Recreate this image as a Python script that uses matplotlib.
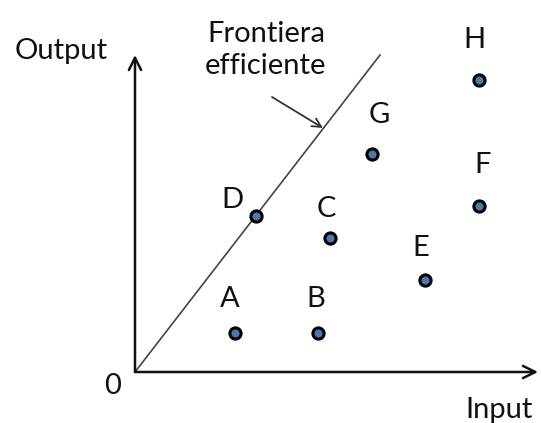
import matplotlib
matplotlib.use('Agg')
import matplotlib.pyplot as plt

# Punti (input, output)
labels = ['A', 'B', 'C', 'D', 'E', 'F', 'G', 'H']
inputs = [100, 183, 195, 121, 290, 344, 237, 344]
outputs = [39, 39, 134, 156, 92, 166, 218, 292]

# Frontiera efficiente: retta dall'origine
frontier_x = [0, 245]
frontier_y = [0, 317]

plt.rcParams['font.family'] = ['Lato', 'DejaVu Sans']
fs = 21

fig = plt.figure(figsize=(5.41, 4.23), dpi=100)
ax = fig.add_axes([0, 0, 1, 1])
ax.set_xlim(-135, 406)
ax.set_ylim(-51, 372)
ax.axis('off')

# Assi con frecce
ax.annotate('', xy=(403, 0), xytext=(0, 0),
            arrowprops=dict(arrowstyle='->', lw=1.8, color='#111111', mutation_scale=22,
                            shrinkA=0, shrinkB=0))
ax.annotate('', xy=(0, 317), xytext=(0, 0),
            arrowprops=dict(arrowstyle='->', lw=1.8, color='#111111', mutation_scale=22,
                            shrinkA=0, shrinkB=0))

ax.plot(frontier_x, frontier_y, color='#444444', lw=1.2)

ax.scatter(inputs, outputs, s=65, color='#4a78b0', edgecolors='black', linewidths=2.2, zorder=3)

offsets = {'A': (-5, 34), 'B': (-2, 34), 'C': (-4, 29), 'D': (-24, 16), 'E': (-4, 32),
           'F': (4, 41), 'G': (7, 39), 'H': (-5, 40)}
for lab, x, y in zip(labels, inputs, outputs):
    dx, dy = offsets[lab]
    ax.text(x + dx, y + dy, lab, fontsize=fs, ha='center', va='center', color='#111111')

ax.text(-74, 321, 'Output', fontsize=fs, ha='center', va='center', color='#111111')
ax.text(364, -38, 'Input', fontsize=fs, ha='center', va='center', color='#111111')
ax.text(-22, -14, '0', fontsize=fs, ha='center', va='center', color='#111111')
ax.text(131, 322, 'Frontiera\nefficiente', fontsize=fs, ha='center', va='center',
        color='#111111', linespacing=1.3)

# Freccia verso la frontiera
ax.annotate('', xy=(188, 244), xytext=(137, 275),
            arrowprops=dict(arrowstyle='->', lw=1.3, color='#333333', mutation_scale=16,
                            shrinkA=0, shrinkB=0))

fig.savefig('out.png', dpi=100)
